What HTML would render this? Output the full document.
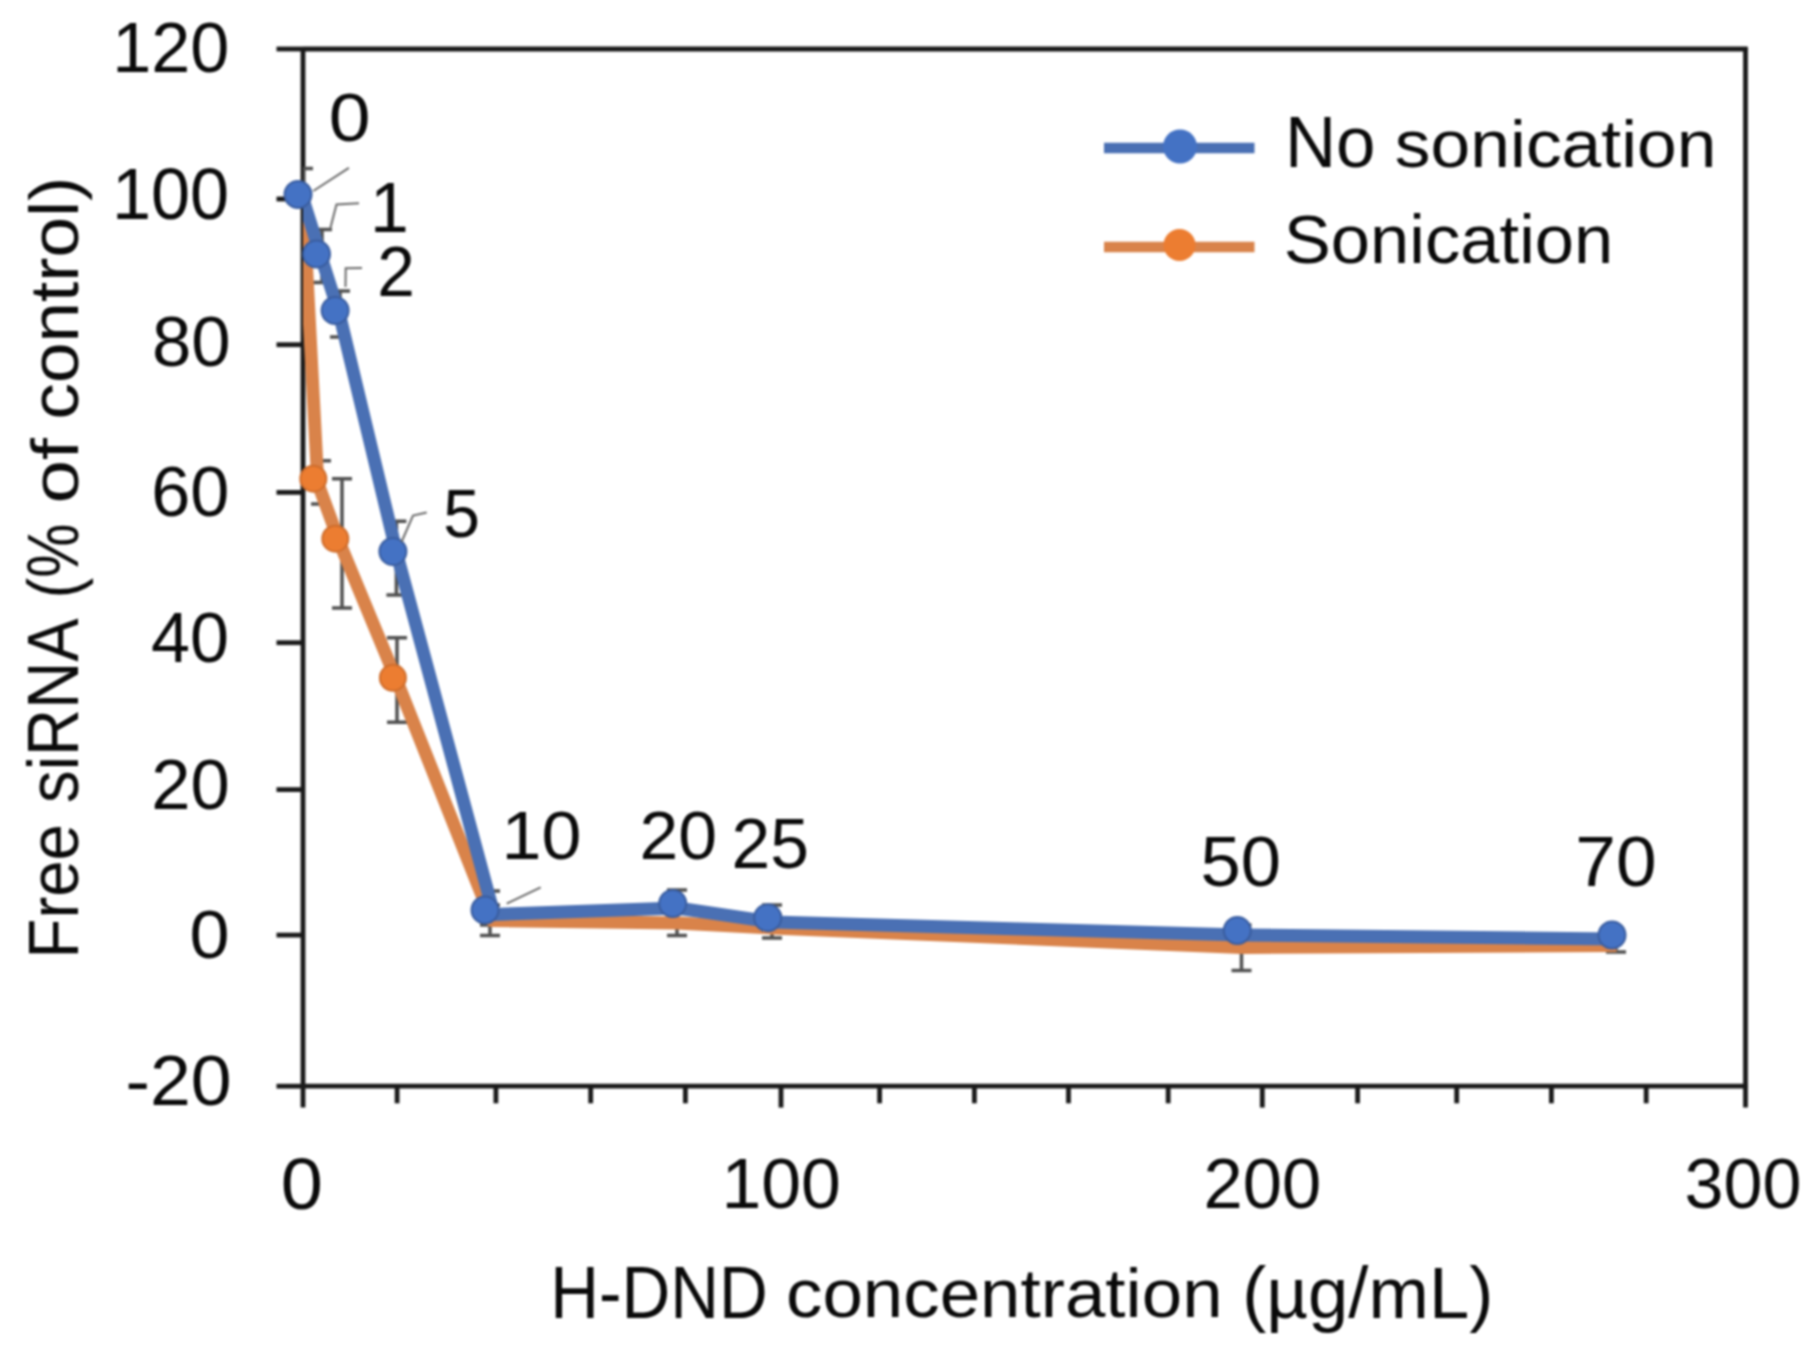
<!DOCTYPE html>
<html><head><meta charset="utf-8"><title>Free siRNA vs H-DND concentration</title>
<style>html,body{margin:0;padding:0;background:#fff;overflow:hidden;}svg{display:block;}#wrap{filter:blur(1px);}
text{font-family:"Liberation Sans",Arial,sans-serif;font-size:100px;fill:#0a0a0a;}</style></head>
<body><div id="wrap"><svg width="1811" height="1350" viewBox="0 0 1811 1350">
<rect width="1811" height="1350" fill="#fff"/>
<defs><clipPath id="pa"><rect x="303.0" y="49.0" width="1442.5" height="1037.2"/></clipPath></defs>
<g stroke="#1a1a1a" stroke-width="4.8" fill="none" stroke-linecap="butt">
<line x1="303.0" y1="49.0" x2="1747.5" y2="49.0"/>
<line x1="303.0" y1="1086.2" x2="1747.5" y2="1086.2"/>
<line x1="303.0" y1="47.0" x2="303.0" y2="1107.6"/>
<line x1="1745.5" y1="47.0" x2="1745.5" y2="1107.6"/>
<line x1="276.5" y1="49.0" x2="303.0" y2="49.0"/>
<line x1="276.5" y1="199.0" x2="303.0" y2="199.0"/>
<line x1="276.5" y1="344.7" x2="303.0" y2="344.7"/>
<line x1="276.5" y1="492.4" x2="303.0" y2="492.4"/>
<line x1="276.5" y1="642.7" x2="303.0" y2="642.7"/>
<line x1="276.5" y1="789.6" x2="303.0" y2="789.6"/>
<line x1="276.5" y1="935.1" x2="303.0" y2="935.1"/>
<line x1="276.5" y1="1086.2" x2="303.0" y2="1086.2"/>
<line x1="397.1" y1="1086.2" x2="397.1" y2="1103.3"/>
<line x1="495.9" y1="1086.2" x2="495.9" y2="1103.3"/>
<line x1="590.7" y1="1086.2" x2="590.7" y2="1103.3"/>
<line x1="685.4" y1="1086.2" x2="685.4" y2="1103.3"/>
<line x1="781.0" y1="1086.2" x2="781.0" y2="1107.6"/>
<line x1="879.6" y1="1086.2" x2="879.6" y2="1103.3"/>
<line x1="974.4" y1="1086.2" x2="974.4" y2="1103.3"/>
<line x1="1068.5" y1="1086.2" x2="1068.5" y2="1103.3"/>
<line x1="1168.2" y1="1086.2" x2="1168.2" y2="1103.3"/>
<line x1="1262.3" y1="1086.2" x2="1262.3" y2="1107.6"/>
<line x1="1357.6" y1="1086.2" x2="1357.6" y2="1103.3"/>
<line x1="1456.7" y1="1086.2" x2="1456.7" y2="1103.3"/>
<line x1="1551.4" y1="1086.2" x2="1551.4" y2="1103.3"/>
<line x1="1646.2" y1="1086.2" x2="1646.2" y2="1103.3"/>
</g>
<g stroke="#505050" stroke-width="3.5" clip-path="url(#pa)">
<line x1="321" y1="460.7" x2="321" y2="504"/><line x1="311.0" y1="460.7" x2="331.0" y2="460.7"/><line x1="311.0" y1="504" x2="331.0" y2="504"/>
<line x1="342" y1="478.7" x2="342" y2="608"/><line x1="332.0" y1="478.7" x2="352.0" y2="478.7"/><line x1="332.0" y1="608" x2="352.0" y2="608"/>
<line x1="397" y1="637.8" x2="397" y2="722.2"/><line x1="387.0" y1="637.8" x2="407.0" y2="637.8"/><line x1="387.0" y1="722.2" x2="407.0" y2="722.2"/>
<line x1="490" y1="905" x2="490" y2="935.5"/><line x1="480.0" y1="905" x2="500.0" y2="905"/><line x1="480.0" y1="935.5" x2="500.0" y2="935.5"/>
<line x1="677" y1="910" x2="677" y2="935.4"/><line x1="667.0" y1="910" x2="687.0" y2="910"/><line x1="667.0" y1="935.4" x2="687.0" y2="935.4"/>
<line x1="772" y1="915" x2="772" y2="938"/><line x1="762.0" y1="915" x2="782.0" y2="915"/><line x1="762.0" y1="938" x2="782.0" y2="938"/>
<line x1="1241.5" y1="925" x2="1241.5" y2="970.5"/><line x1="1231.5" y1="925" x2="1251.5" y2="925"/><line x1="1231.5" y1="970.5" x2="1251.5" y2="970.5"/>
<line x1="1616" y1="935" x2="1616" y2="952"/><line x1="1606.0" y1="935" x2="1626.0" y2="935"/><line x1="1606.0" y1="952" x2="1626.0" y2="952"/>
<line x1="303" y1="168.6" x2="303" y2="229"/><line x1="293.0" y1="168.6" x2="313.0" y2="168.6"/>
<line x1="322" y1="229.5" x2="322" y2="282.5"/><line x1="312.0" y1="229.5" x2="332.0" y2="229.5"/><line x1="312.0" y1="282.5" x2="332.0" y2="282.5"/>
<line x1="340" y1="291" x2="340" y2="337"/><line x1="330.0" y1="291" x2="350.0" y2="291"/><line x1="330.0" y1="337" x2="350.0" y2="337"/>
<line x1="396.4" y1="521.3" x2="396.4" y2="595"/><line x1="386.4" y1="521.3" x2="406.4" y2="521.3"/><line x1="386.4" y1="595" x2="406.4" y2="595"/>
<line x1="490" y1="891" x2="490" y2="925"/><line x1="480.0" y1="891" x2="500.0" y2="891"/><line x1="480.0" y1="925" x2="500.0" y2="925"/>
<line x1="677" y1="889.9" x2="677" y2="920"/><line x1="667.0" y1="889.9" x2="687.0" y2="889.9"/><line x1="667.0" y1="920" x2="687.0" y2="920"/>
<line x1="772" y1="905" x2="772" y2="930"/><line x1="762.0" y1="905" x2="782.0" y2="905"/><line x1="762.0" y1="930" x2="782.0" y2="930"/>
</g>
<g clip-path="url(#pa)"><polyline points="303,199 317.8,483.2 339.8,543.2 397.4,682.3 492,920.5 677.2,923 772.2,928 1241.8,947.4 1616.5,945.5" fill="none" stroke="#d9834a" stroke-width="13" stroke-linejoin="round"/></g>
<circle cx="313.3" cy="478.7" r="13" fill="#ec7d31" stroke="#cf6d2c" stroke-width="2"/>
<circle cx="335.3" cy="538.7" r="13" fill="#ec7d31" stroke="#cf6d2c" stroke-width="2"/>
<circle cx="392.9" cy="677.8" r="13" fill="#ec7d31" stroke="#cf6d2c" stroke-width="2"/>
<g clip-path="url(#pa)"><polyline points="303,199 321.5,258 339.6,314.9 397.4,556.1 494,914.5 677.2,908 772.2,922 1241.8,935 1616.5,939" fill="none" stroke="#4a70b4" stroke-width="13" stroke-linejoin="round"/></g>
<circle cx="298" cy="194.5" r="13.5" fill="#4472c4" stroke="#3a5d9f" stroke-width="2"/>
<circle cx="316.5" cy="254" r="13.5" fill="#4472c4" stroke="#3a5d9f" stroke-width="2"/>
<circle cx="335.1" cy="310.4" r="13.5" fill="#4472c4" stroke="#3a5d9f" stroke-width="2"/>
<circle cx="392.9" cy="551.6" r="13.5" fill="#4472c4" stroke="#3a5d9f" stroke-width="2"/>
<circle cx="485" cy="910" r="13.5" fill="#4472c4" stroke="#3a5d9f" stroke-width="2"/>
<circle cx="672.7" cy="903.5" r="13.5" fill="#4472c4" stroke="#3a5d9f" stroke-width="2"/>
<circle cx="767.7" cy="917.7" r="13.5" fill="#4472c4" stroke="#3a5d9f" stroke-width="2"/>
<circle cx="1237.3" cy="930.5" r="13.5" fill="#4472c4" stroke="#3a5d9f" stroke-width="2"/>
<circle cx="1612" cy="935" r="13.5" fill="#4472c4" stroke="#3a5d9f" stroke-width="2"/>
<g stroke="#6a6a6a" stroke-width="2" fill="none">
<polyline points="313.3,191 348.9,167.8"/>
<polyline points="330,229.5 336.5,204.5 359,203.2"/>
<polyline points="345.5,287 345.7,268.3 362,268"/>
<polyline points="401.5,542 413,515.5 426.7,512.6"/>
<polyline points="506.7,903.7 540.7,887.4"/>
</g>
<line x1="1104" y1="148" x2="1254.5" y2="148" stroke="#4a70b4" stroke-width="10.5"/>
<circle cx="1180" cy="146.5" r="17" fill="#4472c4"/>
<line x1="1104" y1="247" x2="1254.5" y2="247" stroke="#d9834a" stroke-width="10.5"/>
<circle cx="1179.5" cy="245" r="16" fill="#ec7d31"/>
<g>
<text transform="translate(112.18,71.70) scale(0.7026,0.6986)">120</text>
<text transform="translate(111.98,218.79) scale(0.7026,0.7141)">100</text>
<text transform="translate(151.97,365.59) scale(0.7078,0.7085)">80</text>
<text transform="translate(151.19,516.00) scale(0.7029,0.7014)">60</text>
<text transform="translate(151.10,661.50) scale(0.7010,0.6958)">40</text>
<text transform="translate(151.17,808.69) scale(0.7059,0.7127)">20</text>
<text transform="translate(189.52,958.31) scale(0.7208,0.6901)">0</text>
<text transform="translate(125.46,1105.10) scale(0.7343,0.7014)">-20</text>
<text transform="translate(280.87,1209.48) scale(0.7583,0.7183)">0</text>
<text transform="translate(721.47,1208.30) scale(0.7161,0.7042)">100</text>
<text transform="translate(1203.57,1207.90) scale(0.7057,0.7000)">200</text>
<text transform="translate(1684.39,1207.90) scale(0.7013,0.7000)">300</text>
<text transform="translate(328.69,141.01) scale(0.7521,0.6887)">0</text>
<text transform="translate(370.02,231.70) scale(0.6977,0.7014)">1</text>
<text transform="translate(377.22,296.10) scale(0.6761,0.7057)">2</text>
<text transform="translate(443.36,537.12) scale(0.6596,0.6771)">5</text>
<text transform="translate(501.55,859.41) scale(0.7182,0.6930)">10</text>
<text transform="translate(639.51,859.31) scale(0.6971,0.6915)">20</text>
<text transform="translate(731.62,868.49) scale(0.6961,0.7056)">25</text>
<text transform="translate(1200.61,885.60) scale(0.7233,0.7000)">50</text>
<text transform="translate(1575.35,885.60) scale(0.7304,0.7000)">70</text>
<text transform="translate(550.30,1317.50) scale(0.6748,0.7362)">H-DND</text>
<text transform="translate(786.09,1317.30) scale(0.7271,0.6847)">concentration</text>
<text transform="translate(1242.15,1317.50) scale(0.7249,0.7215)">(µg/mL)</text>
<text transform="translate(1284.93,167.40) scale(0.7086,0.7203)">No</text>
<text transform="translate(1394.86,167.20) scale(0.7143,0.6699)">sonication</text>
<text transform="translate(1283.77,262.80) scale(0.7057,0.6915)">Sonication</text>
<text transform="translate(78.20,958.53) rotate(-90) scale(0.6539,0.7001)">Free</text>
<text transform="translate(78.20,802.96) rotate(-90) scale(0.6521,0.7217)">siRNA</text>
<text transform="translate(78.20,598.16) rotate(-90) scale(0.6106,0.7217)">(%</text>
<text transform="translate(78.20,503.53) rotate(-90) scale(0.7835,0.6712)">of</text>
<text transform="translate(78.20,419.41) rotate(-90) scale(0.7282,0.6784)">control)</text>
</g>
</svg></div></body></html>
